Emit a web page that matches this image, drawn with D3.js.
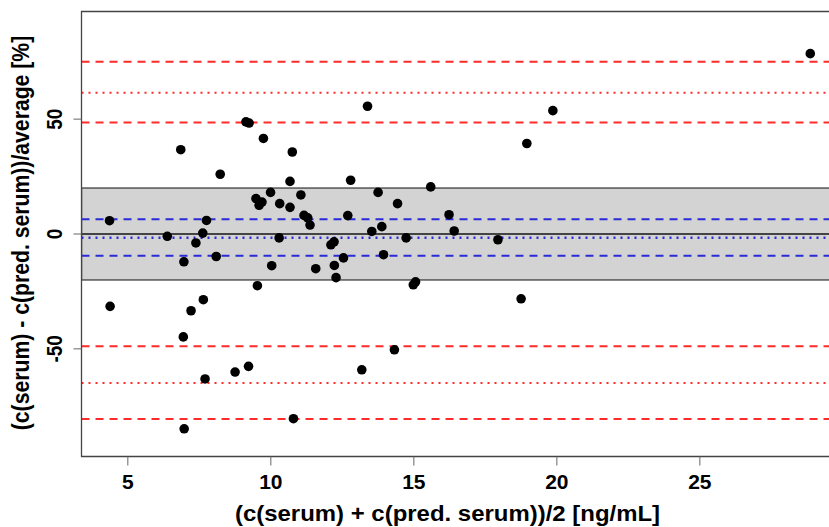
<!DOCTYPE html>
<meta charset="utf-8">
<head>
  <title>Bland-Altman plot</title>
</head>
<style>
  body { margin: 0; background: #fff; }
  svg { display: block; font-family: "Liberation Sans", Arial, sans-serif; }
  .tick-label { font-weight: bold; fill: #000; }
  .axis-title { font-weight: bold; font-size: 21.2px; fill: #000; }
  .dot { fill: #000; }
</style>
<body>
<script src="https://d3js.org/d3.v7.min.js"></script>
<script>
// mean of the two measurements (x) and relative difference in % (y)
var meanConc = [4.36, 4.38, 6.38, 7.38, 6.96, 6.85, 8.23, 9.13, 9.24, 9.74,
  10.75, 10.67, 9.99, 9.48, 9.69, 9.59, 10.31, 10.67, 11.05, 11.16,
  11.29, 11.37, 7.75, 7.62, 8.09, 10.29, 10.03, 11.57, 9.53, 12.10,
  12.21, 12.22, 12.28, 12.79, 13.75, 14.43, 15.59, 12.69, 13.88, 13.53,
  14.73, 16.23, 16.41, 12.54, 13.94, 14.98, 15.06, 17.94, 13.38, 18.95,
  19.86, 28.86, 18.75, 14.32, 13.18, 10.79, 7.21, 7.64, 6.94, 7.70,
  8.75, 9.22, 6.97];
var relDiff = [5.8, -31.5, -1.0, -3.9, -12.1, 36.7, 26.0, 48.8, 48.3, 41.6,
  35.7, 22.9, 18.1, 15.4, 13.9, 12.5, 13.2, 11.6, 17.0, 8.1,
  7.0, 3.9, 5.9, 0.4, -9.8, -1.7, -13.8, -15.1, -22.5, -4.7,
  -3.4, -13.7, -19.0, 23.4, 18.1, 13.2, 20.5, 8.0, 3.2, 1.1,
  -1.7, 8.4, 1.3, -10.4, -9.0, -22.1, -20.8, -2.5, 55.6, 39.4,
  53.7, 78.5, -28.2, -50.4, -59.1, -80.4, -33.4, -28.6, -44.8, -63.1,
  -60.1, -57.6, -84.8];

// reference lines
var acceptBand = [-20, 20];
var biasLine = [-1.6];
var biasCI = [6.4, -9.5];
var loaLines = [61.5, -64.9];
var loaCI = [75.0, 48.5, -48.9, -80.5];

var xTicks = [5, 10, 15, 20, 25];
var yTicks = [-50, 0, 50];

var xLabel = "(c(serum) + c(pred. serum))/2 [ng/mL]";
var yLabel = "(c(serum) - c(pred. serum))/average [%]";

var W = 829, H = 527;
var margin = {top: 11.5, left: 81.5, bottom: 456.5, right: 838.3};
var stretch = 1.13; // text in the picture is a little wider than it is tall

var points = meanConc.map(function(x, i) { return {x: x, y: relDiff[i]}; });

var xScale = d3.scaleLinear().domain([3.38, 29.84]).range([margin.left, margin.right]);
var yScale = d3.scaleLinear().domain([-96.85, 96.85]).range([margin.bottom, margin.top]);

var svg = d3.select("body").append("svg")
    .attr("width", W)
    .attr("height", H);

svg.append("clipPath").attr("id", "plotclip")
  .append("rect")
    .attr("x", margin.left).attr("y", margin.top)
    .attr("width", margin.right - margin.left).attr("height", margin.bottom - margin.top);

var plot = svg.append("g").attr("clip-path", "url(#plotclip)");

// acceptance band
plot.append("rect")
    .attr("x", margin.left)
    .attr("y", yScale(acceptBand[1]))
    .attr("width", margin.right - margin.left)
    .attr("height", yScale(acceptBand[0]) - yScale(acceptBand[1]))
    .attr("fill", "#d3d3d3")
    .attr("stroke", "#555")
    .attr("stroke-width", 1.5);

function hline(v, color, width, dash) {
  plot.append("line")
      .attr("x1", margin.left).attr("x2", margin.right)
      .attr("y1", yScale(v)).attr("y2", yScale(v))
      .attr("stroke", color)
      .attr("stroke-width", width)
      .attr("stroke-dasharray", dash);
}

hline(0, "#444", 2, null);
biasCI.forEach(function(v) { hline(v, "#2a2ad8", 2, "8,6"); });
biasLine.forEach(function(v) { hline(v, "#2a2ad8", 2.5, "2,5"); });
loaCI.forEach(function(v) { hline(v, "#ff2a2a", 2, "8,6"); });
loaLines.forEach(function(v) { hline(v, "#ff2a2a", 2, "2,5"); });

// points
plot.selectAll(".dot")
    .data(points)
  .enter().append("circle")
    .attr("class", "dot")
    .attr("r", 4.8)
    .attr("cx", function(d) { return xScale(d.x); })
    .attr("cy", function(d) { return yScale(d.y); });

// box
svg.append("path")
    .attr("d", "M" + margin.right + "," + margin.top + "H" + margin.left + "V" + margin.bottom + "H" + margin.right)
    .attr("fill", "none")
    .attr("stroke", "#444")
    .attr("stroke-width", 1.3);

// x axis
var xAxis = svg.append("g");
xAxis.selectAll("line").data(xTicks).enter().append("line")
    .attr("x1", function(d) { return xScale(d); })
    .attr("x2", function(d) { return xScale(d); })
    .attr("y1", margin.bottom).attr("y2", margin.bottom + 9)
    .attr("stroke", "#666").attr("stroke-width", 1);
xAxis.selectAll("text").data(xTicks).enter().append("text")
    .attr("class", "tick-label")
    .style("font-size", "21px")
    .attr("x", function(d) { return xScale(d); })
    .attr("y", 489)
    .attr("text-anchor", "middle")
    .text(function(d) { return d; });

// y axis
var yAxis = svg.append("g");
yAxis.selectAll("line").data(yTicks).enter().append("line")
    .attr("x1", margin.left - 8).attr("x2", margin.left)
    .attr("y1", function(d) { return yScale(d); })
    .attr("y2", function(d) { return yScale(d); })
    .attr("stroke", "#666").attr("stroke-width", 1);
yAxis.selectAll("text").data(yTicks).enter().append("text")
    .attr("class", "tick-label")
    .style("font-size", "19px")
    .attr("transform", function(d) {
      return "translate(61.5," + yScale(d) + ") scale(" + stretch + ",1) rotate(-90)";
    })
    .attr("text-anchor", "middle")
    .text(function(d) { return d; });

// titles
svg.append("text")
    .attr("class", "axis-title")
    .attr("transform", "translate(447.5,521) scale(" + stretch + ",1)")
    .attr("text-anchor", "middle")
    .text(xLabel);

svg.append("text")
    .attr("class", "axis-title")
    .attr("transform", "translate(29,233) scale(" + stretch + ",1) rotate(-90)")
    .attr("text-anchor", "middle")
    .text(yLabel);
</script>
</body>
